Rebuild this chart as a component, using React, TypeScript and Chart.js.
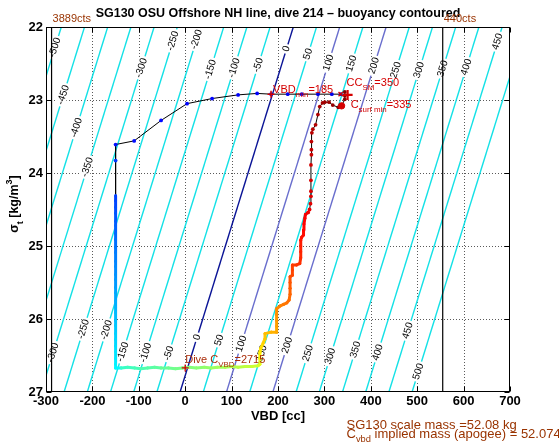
import React, { useEffect, useRef } from "react";
import { Chart, registerables } from "chart.js";

Chart.register(...registerables);

const FONT = '"Liberation Sans", Arial, Helvetica, sans-serif';

// ---------- axes ----------
const X_TICKS = [-300, -200, -100, 0, 100, 200, 300, 400, 500, 600, 700];
const Y_TICKS = [22, 23, 24, 25, 26, 27];

// ---------- buoyancy contours ----------
const CONTOUR_LEVELS = [-500, -450, -400, -350, -300, -250, -200, -150, -100, -50, 0, 50, 100, 150, 200, 250, 300, 350, 400, 450, 500];
const NEUTRAL_VBD_AT_22 = 233; // cc, neutral VBD at sigma_t = 22
const VBD_PER_SIGMA = 48.8; // cc per kg/m^3
const CC_PER_GRAM = 1.0;

const LABEL_LEVELS = [-500, -450, -400, -350, -300, -250, -200, -150, -100, -50, 0, 50, 100, 150, 200, 250, 300, 350, 400, 450,
  -300, -250, -200, -150, -100, -50, 0, 50, 100, 150, 200, 250, 300, 350, 400, 450, 500];
const LABEL_SIGMAS = [22.28, 22.93, 23.38, 23.92, 22.56, 22.19, 22.17, 22.58, 22.56, 22.52, 22.3, 22.37, 22.49, 22.5, 22.53, 22.59, 22.59, 22.57, 22.55, 22.2,
  26.46, 26.14, 26.15, 26.45, 26.46, 26.47, 26.25, 26.29, 26.34, 26.47, 26.36, 26.47, 26.51, 26.42, 26.46, 26.16, 26.72];

// ---------- dive trace (VBD cc, sigma_t) ----------
const TOP_VBD = [335, 316, 286, 251, 221, 185, 155, 114, 58, 4, -52, -110, -150];
const TOP_SIGMA = [22.92, 22.92, 22.92, 22.92, 22.92, 22.92, 22.91, 22.93, 22.98, 23.05, 23.28, 23.56, 23.61];

const DESCENT_VBD = [-150, -150, -150, -150, -150, -150, -150, -150, -150, -150, -150, -150, -150, -150, -150, -150, -150, -150, -150, -150, -150, -150, -150, -150, -150, -150, -150, -150, -150];
const DESCENT_SIGMA = [23.83, 24.31, 24.38, 24.47, 24.55, 24.66, 24.72, 24.83, 24.91, 25.02, 25.09, 25.21, 25.28, 25.39, 25.46, 25.57, 25.64, 25.75, 25.84, 25.91, 26.02, 26.09, 26.2, 26.28, 26.37, 26.45, 26.54, 26.62, 26.67];

const BOTTOM_VBD = [-138, -124, -109, -96, -81, -66, -52, -36, -21, -6, 9, 24, 41, 56, 69, 86, 101, 114, 129, 144, 157];
const BOTTOM_SIGMA = [26.67, 26.66, 26.67, 26.68, 26.67, 26.66, 26.67, 26.67, 26.68, 26.67, 26.66, 26.67, 26.66, 26.67, 26.66, 26.66, 26.65, 26.66, 26.65, 26.65, 26.64];

const ASCENT_VBD = [161, 161, 161, 163, 168, 172, 172, 185, 197, 197, 197, 197, 197, 205, 212, 219, 224, 226, 226, 226,
  226, 231, 231, 231, 240, 247, 249, 249, 249, 249, 251, 255, 255, 256, 258, 259, 265, 268, 270, 271,
  271, 271, 271, 272, 272, 272, 273, 275, 281, 286, 290, 296, 301, 310, 318, 330, 337, 344, 344, 344];
const ASCENT_SIGMA = [26.62, 26.54, 26.46, 26.4, 26.33, 26.27, 26.2, 26.18, 26.18, 26.1, 26.02, 25.94, 25.86, 25.82, 25.8, 25.78, 25.74, 25.66, 25.58, 25.5,
  25.42, 25.4, 25.33, 25.26, 25.26, 25.24, 25.16, 25.08, 25.0, 24.92, 24.88, 24.85, 24.78, 24.7, 24.62, 24.57, 24.54, 24.5, 24.42, 24.32,
  24.25, 24.1, 23.89, 23.75, 23.68, 23.57, 23.45, 23.4, 23.34, 23.2, 23.09, 23.04, 23.03, 23.03, 23.07, 23.1, 23.08, 22.99, 22.94, 22.89];
const ASCENT_DENSE_POINTS = 36;

// ---------- reference marks ----------
const CTS_LINE_VBD = [-288, 555];
const CTS_LABELS = ["3889cts", "440cts"];
const VBD_MIN = 185;
const VBD_MIN_SIGMA = 22.92;
const CC_SM = 350;
const CC_SM_SIGMA = 22.93;
const C_SURF_MIN = 335;
const C_SURF_MIN_SIGMA = 23.08;
const START_VBD = 335;
const START_SIGMA = 22.92;
const DIVE_C_VBD = 2715;
const DIVE_C_VBD_CC = 0;
const DIVE_C_SIGMA = 26.67;
const SCALE_MASS = "52.08";
const IMPLIED_MASS = "52.074";

// ---------- helpers ----------
const vbdAt = (level: number, sigma: number) =>
  NEUTRAL_VBD_AT_22 + level * CC_PER_GRAM - VBD_PER_SIGMA * (sigma - 22);

function jet(t: number) {
  const c = (v: number) => Math.round(255 * Math.max(0, Math.min(1, v)));
  return `rgb(${c(1.5 - Math.abs(4 * t - 3))},${c(1.5 - Math.abs(4 * t - 2))},${c(1.5 - Math.abs(4 * t - 1))})`;
}

const pts = (xs: number[], ys: number[]) => xs.map((x, i) => ({ x, y: ys[i] }));

const tracePoints = [
  ...pts(TOP_VBD, TOP_SIGMA),
  ...pts(DESCENT_VBD, DESCENT_SIGMA),
  ...pts(BOTTOM_VBD, BOTTOM_SIGMA),
  ...pts(ASCENT_VBD, ASCENT_SIGMA),
];
const traceColors: string[] = [];
TOP_VBD.forEach((_, i) => traceColors.push(jet(0.1 + 0.04 * (i / (TOP_VBD.length - 1)))));
DESCENT_VBD.forEach((_, i) => traceColors.push(jet(0.18 + 0.19 * (i / (DESCENT_VBD.length - 1)))));
BOTTOM_VBD.forEach((_, i) => traceColors.push(jet(0.43 + 0.15 * (i / (BOTTOM_VBD.length - 1)))));
ASCENT_VBD.forEach((_, i) => traceColors.push(jet(0.6 + 0.4 * Math.pow(i / (ASCENT_VBD.length - 1), 0.65))));

const DENSE_START = TOP_VBD.length + 1;
const DENSE_END = TOP_VBD.length + DESCENT_VBD.length + BOTTOM_VBD.length + ASCENT_DENSE_POINTS;
const isDense = (i: number) => i >= DENSE_START && i < DENSE_END;

type Part = { t: string; s?: "sub" | "sup" };
function drawRich(ctx: CanvasRenderingContext2D, parts: Part[], x: number, y: number, size: number, weight: string, color: string, align: "left" | "center") {
  const sub = size * 0.72;
  const widths = parts.map((p) => {
    ctx.font = `${weight} ${p.s ? sub : size}px ${FONT}`;
    return ctx.measureText(p.t).width;
  });
  const total = widths.reduce((a, b) => a + b, 0);
  let cx = align === "center" ? x - total / 2 : x;
  ctx.fillStyle = color;
  ctx.textAlign = "left";
  ctx.textBaseline = "middle";
  parts.forEach((p, i) => {
    ctx.font = `${weight} ${p.s ? sub : size}px ${FONT}`;
    const dy = p.s === "sub" ? size * 0.42 : p.s === "sup" ? -size * 0.4 : 0;
    ctx.fillText(p.t, cx, y + dy);
    cx += widths[i];
  });
}

const RED = "#d40000";
const BROWN = "rgb(153,51,0)";

const decorPlugin = {
  id: "decor",
  beforeDatasetsDraw(chart: any) {
    const ctx: CanvasRenderingContext2D = chart.ctx;
    const a = chart.chartArea;
    const xs = chart.scales.x, ys = chart.scales.y;
    ctx.save();
    ctx.fillStyle = "rgb(90,90,90)";
    X_TICKS.slice(1, -1).forEach((v) => {
      const p = Math.round(xs.getPixelForValue(v));
      for (let yy = Math.round(a.top) + 2; yy < a.bottom - 1; yy += 3) ctx.fillRect(p, yy, 1, 1);
    });
    Y_TICKS.slice(1, -1).forEach((v) => {
      const p = Math.round(ys.getPixelForValue(v));
      for (let xx = Math.round(a.left) + 2; xx < a.right - 1; xx += 3) ctx.fillRect(xx, p, 1, 1);
    });
    ctx.restore();
  },
  afterDatasetDraw(chart: any, args: any) {
    const ds = chart.data.datasets[args.index];
    if (ds.label !== "contour-labels") return;
    const ctx: CanvasRenderingContext2D = chart.ctx;
    const xs = chart.scales.x, ys = chart.scales.y;
    const a = chart.chartArea;
    ctx.save();
    ctx.beginPath();
    ctx.rect(a.left, a.top, a.right - a.left, a.bottom - a.top);
    ctx.clip();
    LABEL_LEVELS.forEach((B, i) => {
      const s = LABEL_SIGMAS[i];
      const px = xs.getPixelForValue(vbdAt(B, s));
      const py = ys.getPixelForValue(s);
      const tx = xs.getPixelForValue(vbdAt(B, 22)), ty = ys.getPixelForValue(22);
      const bx = xs.getPixelForValue(vbdAt(B, 27)), by = ys.getPixelForValue(27);
      const ang = Math.atan2(ty - by, tx - bx);
      ctx.save();
      ctx.translate(px, py);
      ctx.rotate(ang);
      ctx.font = `10px ${FONT}`;
      const txt = String(B);
      const w = ctx.measureText(txt).width;
      ctx.fillStyle = "#fff";
      ctx.fillRect(-w / 2 - 2, -4.5, w + 4, 9);
      ctx.fillStyle = "#000";
      ctx.textAlign = "center";
      ctx.textBaseline = "middle";
      ctx.fillText(txt, 0, 0);
      ctx.restore();
    });
    ctx.restore();
  },
  afterDatasetsDraw(chart: any) {
    const ctx: CanvasRenderingContext2D = chart.ctx;
    const a = chart.chartArea;
    const xs = chart.scales.x, ys = chart.scales.y;
    ctx.save();
    ctx.strokeStyle = "#000";
    ctx.lineWidth = 1;
    const L = Math.round(a.left) + 0.5, R = Math.round(a.right) - 0.5, T = Math.round(a.top) + 0.5, Bm = Math.round(a.bottom) - 0.5;
    ctx.strokeRect(L, T, R - L, Bm - T);
    ctx.beginPath();
    const tl = 5;
    X_TICKS.forEach((v) => {
      const p = Math.round(xs.getPixelForValue(v)) + 0.5;
      ctx.moveTo(p, Bm); ctx.lineTo(p, Bm - tl);
      ctx.moveTo(p, T); ctx.lineTo(p, T + tl);
    });
    Y_TICKS.forEach((v) => {
      const p = Math.round(ys.getPixelForValue(v)) + 0.5;
      ctx.moveTo(L, p); ctx.lineTo(L + tl, p);
      ctx.moveTo(R, p); ctx.lineTo(R - tl, p);
    });
    ctx.stroke();
    ctx.restore();
  },
  afterDraw(chart: any) {
    const ctx: CanvasRenderingContext2D = chart.ctx;
    const a = chart.chartArea;
    const xs = chart.scales.x, ys = chart.scales.y;
    const cx = (a.left + a.right) / 2;
    ctx.save();
    drawRich(ctx, [{ t: "SG130 OSU Offshore NH line, dive 214 \u2013 buoyancy contoured" }], cx, 13.5, 12.5, "bold", "#000", "center");
    drawRich(ctx, [{ t: "VBD [cc]" }], cx, 416.5, 13, "bold", "#000", "center");
    ctx.save();
    ctx.translate(15, 204);
    ctx.rotate(-Math.PI / 2);
    drawRich(ctx, [{ t: "\u03c3" }, { t: "t", s: "sub" }, { t: " [kg/m" }, { t: "3", s: "sup" }, { t: "]" }], 0, 0, 12.5, "bold", "#000", "center");
    ctx.restore();
    CTS_LINE_VBD.forEach((v, i) => {
      drawRich(ctx, [{ t: CTS_LABELS[i] }], xs.getPixelForValue(v) + 1, a.top - 8, 11, "normal", BROWN, "left");
    });
    const mx = xs.getPixelForValue(VBD_MIN), my = ys.getPixelForValue(VBD_MIN_SIGMA);
    drawRich(ctx, [{ t: "VBD" }, { t: "min", s: "sub" }, { t: "=" + VBD_MIN }], mx + 2, my - 4, 11, "normal", RED, "left");
    const sx = xs.getPixelForValue(CC_SM), sy = ys.getPixelForValue(CC_SM_SIGMA);
    drawRich(ctx, [{ t: "CC" }, { t: "SM", s: "sub" }, { t: "=" + CC_SM }], sx - 1, sy - 12, 11, "normal", RED, "left");
    const ux = xs.getPixelForValue(C_SURF_MIN), uy = ys.getPixelForValue(C_SURF_MIN_SIGMA);
    drawRich(ctx, [{ t: "C" }, { t: "surf min", s: "sub" }, { t: "=" + C_SURF_MIN }], ux + 10, uy - 1, 11, "normal", RED, "left");
    const dx = xs.getPixelForValue(DIVE_C_VBD_CC), dy = ys.getPixelForValue(DIVE_C_SIGMA);
    drawRich(ctx, [{ t: "Dive C" }, { t: "VBD", s: "sub" }, { t: "=" + DIVE_C_VBD }], dx, dy - 8, 11, "normal", "rgb(170,45,10)", "left");
    drawRich(ctx, [{ t: "SG130 scale mass =" + SCALE_MASS + " kg" }], 346.5, 425, 13, "normal", BROWN, "left");
    drawRich(ctx, [{ t: "C" }, { t: "vbd", s: "sub" }, { t: " implied mass (apogee) = " + IMPLIED_MASS }], 346.5, 434, 13, "normal", BROWN, "left");
    ctx.restore();
  },
};

function contourColor(level: number) {
  if (level === 0) return "rgb(10,20,150)";
  if (level === 100 || level === 200) return "rgb(105,110,205)";
  return "rgb(20,225,230)";
}

export default function App() {
  const ref = useRef<HTMLCanvasElement>(null);
  useEffect(() => {
    document.body.style.margin = "0";
    const canvas = ref.current!;
    const datasets: any[] = [];
    CONTOUR_LEVELS.forEach((B) => {
      datasets.push({
        label: "c" + B,
        data: [{ x: vbdAt(B, 22), y: 22 }, { x: vbdAt(B, 27), y: 27 }],
        showLine: true,
        borderColor: contourColor(B),
        borderWidth: 1.4,
        pointRadius: 0,
        order: 10,
        clip: 0,
      });
    });
    datasets.push({ label: "contour-labels", data: [], order: 8, pointRadius: 0 });
    CTS_LINE_VBD.forEach((v, i) => {
      datasets.push({
        label: CTS_LABELS[i],
        data: [{ x: v, y: 22 }, { x: v, y: 27 }],
        showLine: true,
        borderColor: "#000",
        borderWidth: 1.2,
        pointRadius: 0,
        order: 6,
        clip: 0,
      });
    });
    datasets.push({
      label: "trace",
      data: tracePoints,
      showLine: true,
      borderColor: "#000",
      borderWidth: 1,
      borderCapStyle: "round",
      borderJoinStyle: "round",
      segment: {
        borderColor: (c: any) => (isDense(c.p0DataIndex) ? traceColors[c.p0DataIndex] : "#000"),
        borderWidth: (c: any) => (isDense(c.p0DataIndex) ? 3 : 1),
      },
      pointRadius: tracePoints.map((_, i) => (isDense(i) ? 1.3 : 1.9)),
      pointBackgroundColor: traceColors,
      pointBorderWidth: 0,
      order: 3,
      clip: 0,
    });
    const marker = (x: number, y: number, style: string, r: number, w: number, fill = false) => ({
      label: "m",
      data: [{ x, y }],
      pointStyle: style,
      pointRadius: r,
      pointBorderWidth: w,
      pointBorderColor: RED,
      pointBackgroundColor: fill ? RED : "rgba(0,0,0,0)",
      showLine: false,
      order: 1,
      clip: 0,
    });
    datasets.push(marker(VBD_MIN, VBD_MIN_SIGMA, "cross", 3.5, 1.5));
    datasets.push(marker(START_VBD, START_SIGMA, "crossRot", 3, 1.3));
    datasets.push(marker(C_SURF_MIN + 2, C_SURF_MIN_SIGMA, "circle", 3.2, 1, true));
    datasets.push(marker(CC_SM, CC_SM_SIGMA, "cross", 5, 2.2));
    datasets.push(marker(DIVE_C_VBD_CC, DIVE_C_SIGMA, "cross", 3.5, 1.3));

    const chart = new Chart(canvas, {
      type: "scatter",
      data: { datasets },
      options: {
        responsive: false,
        animation: false,
        events: [],
        layout: { padding: { top: 27, right: 49, left: 0, bottom: 0 } },
        plugins: { legend: { display: false }, tooltip: { enabled: false }, title: { display: false } },
        scales: {
          x: {
            type: "linear",
            min: -300,
            max: 700,
            afterBuildTicks: (s: any) => { s.ticks = X_TICKS.map((v) => ({ value: v })); },
            afterFit: (s: any) => { s.height = 50; },
            ticks: { font: { family: FONT, size: 13, weight: "bold" }, color: "#000", padding: 2, maxRotation: 0, autoSkip: false },
            grid: { display: false, drawTicks: false },
            border: { display: false },
          },
          y: {
            type: "linear",
            min: 22,
            max: 27,
            reverse: true,
            afterBuildTicks: (s: any) => { s.ticks = Y_TICKS.map((v) => ({ value: v })); },
            afterFit: (s: any) => { s.width = 46; },
            ticks: { font: { family: FONT, size: 13, weight: "bold" }, color: "#000", padding: 3, autoSkip: false },
            grid: { display: false, drawTicks: false },
            border: { display: false },
          },
        },
      } as any,
      plugins: [decorPlugin],
    });
    return () => chart.destroy();
  }, []);
  return (
    <div style={{ width: 559, height: 442 }}>
      <canvas ref={ref} width={559} height={442} style={{ display: "block" }} />
    </div>
  );
}
